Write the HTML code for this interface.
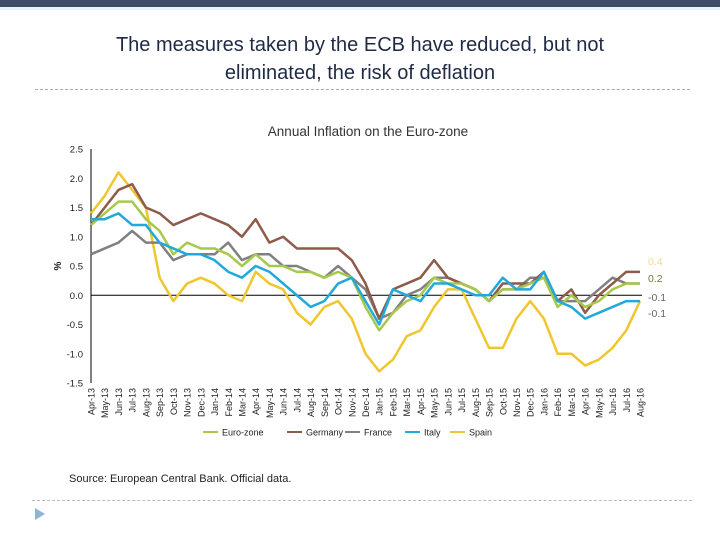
<!DOCTYPE html>
<html><head><meta charset="utf-8"><style>
body{margin:0;width:720px;height:540px;background:#fff;overflow:hidden;position:relative;font-family:"Liberation Sans",sans-serif}
.abs{position:absolute}
</style></head><body>
<div class="abs" style="left:0;top:0;width:720px;height:7px;background:#3d4b66"></div>
<div class="abs" style="left:0;top:7px;width:720px;height:3px;background:#e6f2fb"></div>
<div class="abs" style="left:0;top:31px;width:720px;text-align:center;font-size:20px;line-height:28px;color:#1f2a44">The measures taken by the ECB have reduced, but not<br>eliminated, the risk of deflation</div>
<div class="abs" style="left:35px;top:89px;width:655px;border-top:1px dashed #aaa"></div>
<svg class="abs" style="left:0;top:0" width="720" height="540">
<text x="368" y="136" text-anchor="middle" font-family="Liberation Sans" font-size="13.5" fill="#333">Annual Inflation on the Euro-zone</text>
<g id="g"></g>
</svg>
<div class="abs" style="left:69px;top:473px;font-size:11px;color:#222">Source: European Central Bank. Official data.</div>
<div class="abs" style="left:32px;top:500px;width:660px;border-top:1px dashed #bbb"></div>
<div class="abs" style="left:35px;top:508px;width:0;height:0;border-left:10px solid #8fb4dc;border-top:6px solid transparent;border-bottom:6px solid transparent"></div>
<script>
const months=["Apr-13","May-13","Jun-13","Jul-13","Aug-13","Sep-13","Oct-13","Nov-13","Dec-13","Jan-14","Feb-14","Mar-14","Apr-14","May-14","Jun-14","Jul-14","Aug-14","Sep-14","Oct-14","Nov-14","Dec-14","Jan-15","Feb-15","Mar-15","Apr-15","May-15","Jun-15","Jul-15","Aug-15","Sep-15","Oct-15","Nov-15","Dec-15","Jan-16","Feb-16","Mar-16","Apr-16","May-16","Jun-16","Jul-16","Aug-16"];
const yTicks=[2.5,2.0,1.5,1.0,0.5,0.0,-0.5,-1.0,-1.5];
const euro=[1.2,1.4,1.6,1.6,1.3,1.1,0.7,0.9,0.8,0.8,0.7,0.5,0.7,0.5,0.5,0.4,0.4,0.3,0.4,0.3,-0.2,-0.6,-0.3,-0.1,0.0,0.3,0.2,0.2,0.1,-0.1,0.1,0.1,0.2,0.3,-0.2,0.0,-0.2,-0.1,0.1,0.2,0.2];
const germany=[1.2,1.5,1.8,1.9,1.5,1.4,1.2,1.3,1.4,1.3,1.2,1.0,1.3,0.9,1.0,0.8,0.8,0.8,0.8,0.6,0.2,-0.4,0.1,0.2,0.3,0.6,0.3,0.2,0.1,-0.1,0.2,0.2,0.2,0.4,-0.1,0.1,-0.3,0.0,0.2,0.4,0.4];
const france=[0.7,0.8,0.9,1.1,0.9,0.9,0.6,0.7,0.7,0.7,0.9,0.6,0.7,0.7,0.5,0.5,0.4,0.3,0.5,0.3,0.1,-0.4,-0.3,0.0,0.1,0.3,0.3,0.2,0.1,-0.1,0.1,0.1,0.3,0.3,-0.1,-0.1,-0.1,0.1,0.3,0.2,0.2];
const italy=[1.3,1.3,1.4,1.2,1.2,0.9,0.8,0.7,0.7,0.6,0.4,0.3,0.5,0.4,0.2,0.0,-0.2,-0.1,0.2,0.3,-0.1,-0.5,0.1,0.0,-0.1,0.2,0.2,0.1,0.0,0.0,0.3,0.1,0.1,0.4,-0.1,-0.2,-0.4,-0.3,-0.2,-0.1,-0.1];
const spain=[1.4,1.7,2.1,1.8,1.5,0.3,-0.1,0.2,0.3,0.2,0.0,-0.1,0.4,0.2,0.1,-0.3,-0.5,-0.2,-0.1,-0.4,-1.0,-1.3,-1.1,-0.7,-0.6,-0.2,0.1,0.1,-0.4,-0.9,-0.9,-0.4,-0.1,-0.4,-1.0,-1.0,-1.2,-1.1,-0.9,-0.6,-0.1];
const seriesNames=["Euro-zone","Germany","France","Italy","Spain"];
const endLabels=["0.4","0.2","-0.1","-0.1"];
const NS="http://www.w3.org/2000/svg";
const g=document.getElementById("g");
const x0=91,x1=640,yTop=149,yBot=383,vMax=2.5,vMin=-1.5;
const xs=i=>x0+(x1-x0)*i/(months.length-1);
const ys=v=>yTop+(vMax-v)/(vMax-vMin)*(yBot-yTop);
function mk(t,a){const e=document.createElementNS(NS,t);for(const k in a)e.setAttribute(k,a[k]);g.appendChild(e);return e;}
yTicks.forEach(v=>{const t=mk("text",{x:83,y:ys(v)+3.5,"text-anchor":"end","font-size":"9.5",fill:"#222","font-family":"Liberation Sans"});t.textContent=v.toFixed(1);

});
const yl=mk("text",{x:0,y:0,transform:"translate(61,266) rotate(-90)","text-anchor":"middle","font-size":"10","font-weight":"bold",fill:"#222"});yl.textContent="%";


const ax=mk("line",{x1:x0,y1:yTop,x2:x0,y2:yBot,stroke:"#000","stroke-width":1});


const zl=mk("line",{x1:x0,y1:ys(0),x2:642,y2:ys(0),stroke:"#000","stroke-width":1});


months.forEach((m,i)=>{const t=mk("text",{x:0,y:0,transform:`translate(${xs(i)+3.5},388) rotate(-90)`,"text-anchor":"end","font-size":"9",fill:"#222"});t.textContent=m;

});
const data=[euro,germany,france,italy,spain];
const cols=["#a7c94a","#8e5b4b","#808080","#22a9dc","#f0c62e"];
const order=[4,2,1,0,3];
order.forEach(k=>{const p=mk("polyline",{points:data[k].map((v,i)=>xs(i)+","+ys(v)).join(" "),fill:"none",stroke:cols[k],"stroke-width":2.5,"stroke-linejoin":"round"});

});
const elc=["#f5d68a","#6e7b2c","#666","#666"];
const ely=[265,282,301,317];
endLabels.forEach((s,i)=>{const t=mk("text",{x:648,y:ely[i],"font-size":"10.5",fill:elc[i]});t.textContent=s;

});
const lx=[203,287,345,405,450];
seriesNames.forEach((n,k)=>{const l=mk("line",{x1:lx[k],y1:432,x2:lx[k]+15,y2:432,stroke:cols[k],"stroke-width":2});


const t=mk("text",{x:lx[k]+19,y:435.5,"font-size":"9",fill:"#222"});t.textContent=n;

});
</script>
</body></html>
